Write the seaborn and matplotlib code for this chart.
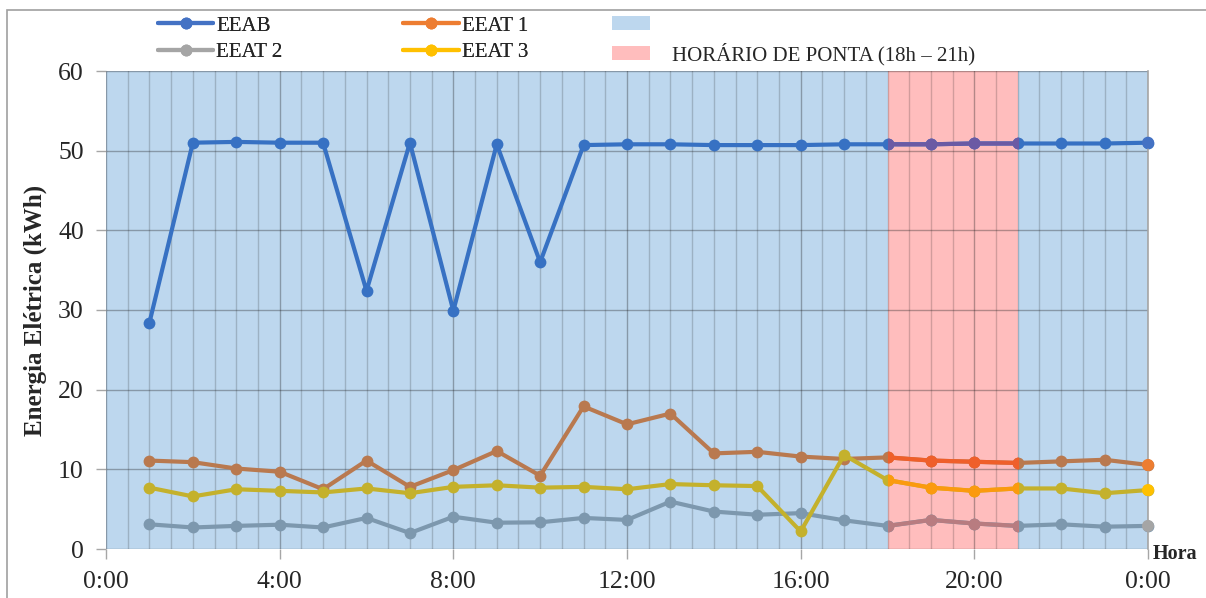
import numpy as np
import pandas as pd
import seaborn as sns
import matplotlib.pyplot as plt
from matplotlib.lines import Line2D
from matplotlib.patches import Patch, Rectangle
from matplotlib.ticker import MultipleLocator

## Dados (kWh por hora)
horas = list(range(1, 25))
eeab = [28.4, 51.0, 51.1, 51.0, 51.0, 32.4, 51.0, 29.9, 50.8, 36.0, 50.7, 50.8,
        50.8, 50.7, 50.7, 50.7, 50.8, 50.8, 50.8, 50.9, 50.9, 50.9, 50.9, 51.0]
eeat1 = [11.1, 10.9, 10.1, 9.7, 7.5, 11.1, 7.8, 9.9, 12.3, 9.2, 17.9, 15.65,
         17.0, 12.0, 12.2, 11.6, 11.3, 11.5, 11.1, 10.95, 10.8, 11.0, 11.2, 10.55]
eeat2 = [3.1, 2.7, 2.9, 3.05, 2.7, 3.9, 2.0, 4.05, 3.3, 3.35, 3.9, 3.65,
         5.95, 4.7, 4.3, 4.5, 3.6, 2.9, 3.65, 3.2, 2.9, 3.1, 2.8, 2.9]
eeat3 = [7.7, 6.6, 7.5, 7.3, 7.1, 7.6, 7.0, 7.8, 8.0, 7.7, 7.8, 7.5,
         8.15, 8.0, 7.9, 2.2, 11.8, 8.65, 7.7, 7.3, 7.6, 7.6, 7.0, 7.4]

series = ['EEAB', 'EEAT 1', 'EEAT 2', 'EEAT 3']
ponta = (18, 21)
xticks = [0, 4, 8, 12, 16, 20, 24]
xticklabels = ['0:00', '4:00', '8:00', '12:00', '16:00', '20:00', '0:00']
yticks = [0, 10, 20, 30, 40, 50, 60]

# cores puras (legenda) e tingidas pelo fundo
cores = ['#4472C4', '#ED7D31', '#A5A5A5', '#FFC000']
cores_azul = ['#3771C3', '#B9794F', '#7D98AE', '#C4B12C']
cores_rosa = ['#6B5AA4', '#EF5F2A', '#B87C80', '#FB9A0E']

df = pd.DataFrame({'hora': horas * 4,
                   'valor': eeab + eeat1 + eeat2 + eeat3,
                   'serie': np.repeat(series, len(horas))})

sns.set_theme(style='white')
plt.rcParams['font.family'] = ['Liberation Serif', 'DejaVu Serif']

fig = plt.figure(figsize=(12.06, 5.98), dpi=100)
ax = fig.add_axes([106 / 1206, 1 - 549 / 598, 1042 / 1206, 478 / 598])

# fundo
ax.axvspan(0, ponta[0], color='#BDD7EE', lw=0, zorder=0.2)
ax.axvspan(ponta[0], ponta[1], color='#FFBDBD', lw=0, zorder=0.2)
ax.axvspan(ponta[1], 24, color='#BDD7EE', lw=0, zorder=0.2)

kw = dict(x='hora', y='valor', hue='serie', marker='o', markersize=8.5,
          markeredgewidth=0, linewidth=3, legend=False, ax=ax)
sns.lineplot(data=df, palette=cores_azul, **kw)
n0 = len(ax.lines)
sns.lineplot(data=df, palette=cores_rosa, **kw)
clip = Rectangle((ponta[0], -5), ponta[1] - ponta[0], 70, transform=ax.transData)
for ln in ax.lines[n0:]:
    ln.set_clip_path(clip)
for ln in ax.lines[:n0]:
    ln.set_clip_on(False)

# ultimo ponto fora do sombreado
ult = df[df['hora'] == 24]
sns.scatterplot(data=ult, x='hora', y='valor', hue='serie', palette=cores,
                s=75, linewidth=0, legend=False, ax=ax, zorder=3, clip_on=False)

ax.set_xlim(0, 24)
ax.set_ylim(0, 60)
ax.set_xticks(xticks)
ax.set_xticklabels(xticklabels)
ax.xaxis.set_minor_locator(MultipleLocator(0.5))
ax.set_yticks(yticks)
ax.set_axisbelow(True)
ax.grid(which='major', color='k', alpha=0.33, lw=1)
ax.grid(which='minor', axis='x', color='k', alpha=0.2, lw=1)
ax.tick_params(which='major', direction='out', length=7, width=1, color='#A6A6A6',
               labelsize=18.5, pad=9, bottom=True, left=True)
ax.tick_params(which='minor', length=0)
for s in ['top', 'left', 'bottom']:
    ax.spines[s].set_visible(False)
ax.spines['right'].set_color('#A6A6A6')
ax.spines['right'].set_linewidth(1.2)

ax.set_xlabel('')
ax.set_ylabel('Energia Elétrica (kWh)', fontsize=18, fontweight='bold')
ax.yaxis.set_label_coords(-0.057, 0.5)
fig.text(1153 / 1206, 1 - 554 / 598, 'Hora', fontsize=14.5, fontweight='bold',
         ha='left', va='center')

# legendas
h_linhas = [Line2D([], [], color=c, lw=3, marker='o', ms=8.5, mew=0) for c in cores]
leg1 = fig.legend([h_linhas[0], h_linhas[2], h_linhas[1], h_linhas[3]],
                  ['EEAB', 'EEAT 2', 'EEAT 1', 'EEAT 3'], ncol=2, frameon=False,
                  loc='upper left', bbox_to_anchor=(158 / 1206, 1 - 16 / 598),
                  fontsize=15, handlelength=2.65, handletextpad=0.15,
                  columnspacing=5.8, labelspacing=0.35, borderpad=0, borderaxespad=0)
h_faixas = [Patch(color='#BDD7EE', lw=0), Patch(color='#FFBDBD', lw=0)]
fig.legend(h_faixas, ['', 'HORÁRIO DE PONTA (18h – 21h)'], frameon=False,
           loc='upper left', bbox_to_anchor=(612 / 1206, 1 - 16 / 598),
           fontsize=15, handlelength=1.83, handleheight=0.67, handletextpad=1.05,
           labelspacing=0.35, borderpad=0, borderaxespad=0)
fig.add_artist(leg1)

# borda da area do grafico
fig.add_artist(Rectangle((7 / 1206, -0.1), 1.2, 1.1 - 10 / 598,
                         transform=fig.transFigure, fill=False,
                         edgecolor='#A0A0A0', lw=1.2))

fig.savefig('out.png', dpi=100)
